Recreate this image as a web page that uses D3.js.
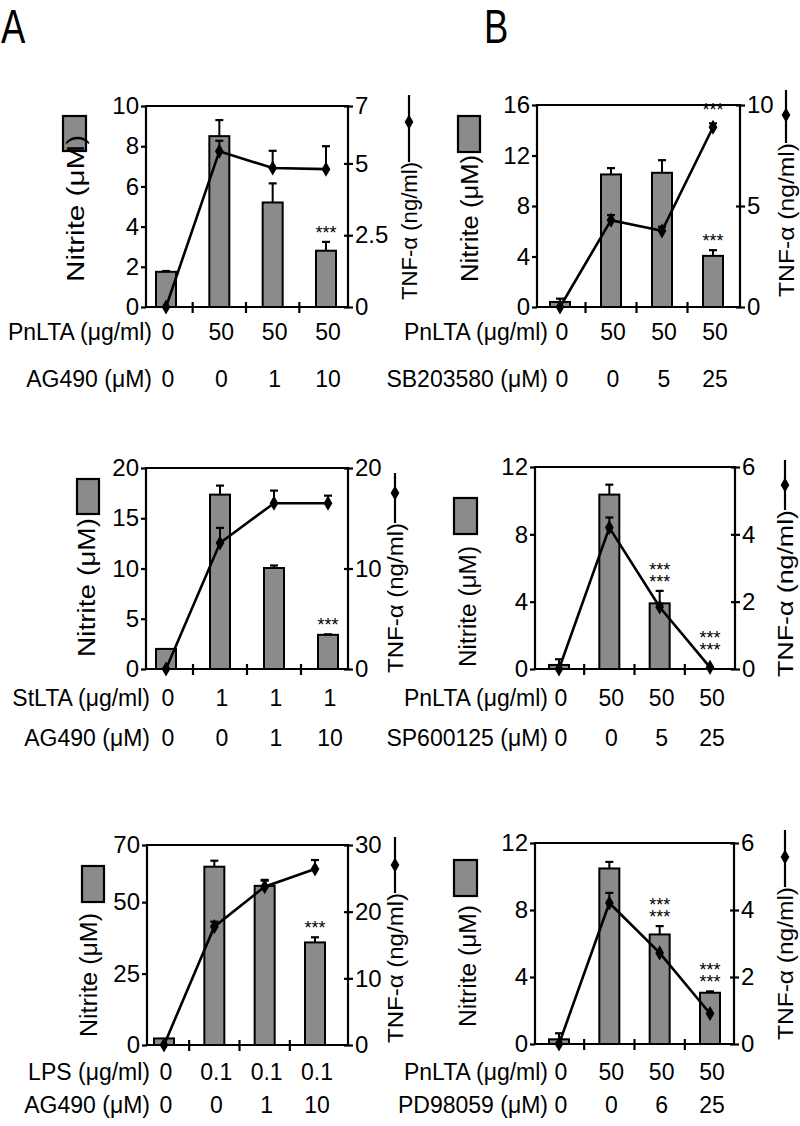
<!DOCTYPE html>
<html><head><meta charset="utf-8">
<script src="https://cdn.jsdelivr.net/npm/d3@7"></script>
<style>
html,body{margin:0;padding:0;background:#fff;}
svg{display:block;font-family:"Liberation Sans",Arial,Helvetica,sans-serif;}
</style></head><body>
<svg id="chart" width="800" height="1126"></svg>
<script>
// ================= DATA =================
const conditions = [0, 1, 2, 3];   // four treatment groups per panel

// ---- Panel A, top (PnLTA + AG490)
const a1Nitrite    = [1.75, 8.5, 5.2, 2.8];
const a1NitriteErr = [0.04, 0.8, 0.95, 0.44];
const a1Tnf        = [0, 5.42, 4.84, 4.8];
const a1TnfErr     = [0, 0.37, 0.6, 0.8];
const a1LeftTicks  = [0, 2, 4, 6, 8, 10];
const a1RightTicks = [0, 2.5, 5, 7];
const a1RowNames   = ["PnLTA (μg/ml)", "AG490 (μM)"];
const a1Row1       = ["0", "50", "50", "50"];
const a1Row2       = ["0", "0", "1", "10"];
const a1BarStars   = [0, 0, 0, 1];
const a1TnfStars   = [0, 0, 0, 0];

// ---- Panel B, top (PnLTA + SB203580)
const b1Nitrite    = [0.4, 10.5, 10.63, 4.05];
const b1NitriteErr = [0.26, 0.5, 1.0, 0.45];
const b1Tnf        = [0, 4.3, 3.77, 8.9];
const b1TnfErr     = [0, 0.25, 0.2, 0.19];
const b1LeftTicks  = [0, 4, 8, 12, 16];
const b1RightTicks = [0, 5, 10];
const b1RowNames   = ["PnLTA (μg/ml)", "SB203580 (μM)"];
const b1Row1       = ["0", "50", "50", "50"];
const b1Row2       = ["0", "0", "5", "25"];
const b1BarStars   = [0, 0, 0, 1];
const b1TnfStars   = [0, 0, 0, 1];

// ---- Panel A, middle (StLTA + AG490)
const a2Nitrite    = [2.0, 17.35, 10.05, 3.4];
const a2NitriteErr = [0, 0.9, 0.25, 0.05];
const a2Tnf        = [0, 12.54, 16.5, 16.5];
const a2TnfErr     = [0, 1.5, 1.25, 0.75];
const a2LeftTicks  = [0, 5, 10, 15, 20];
const a2RightTicks = [0, 10, 20];
const a2RowNames   = ["StLTA (μg/ml)", "AG490 (μM)"];
const a2Row1       = ["0", "1", "1", "1"];
const a2Row2       = ["0", "0", "1", "10"];
const a2BarStars   = [0, 0, 0, 1];
const a2TnfStars   = [0, 0, 0, 0];

// ---- Panel B, middle (PnLTA + SP600125)
const b2Nitrite    = [0.24, 10.36, 3.9, 0];
const b2NitriteErr = [0.34, 0.59, 0.74, 0];
const b2Tnf        = [0, 4.2, 1.84, 0.05];
const b2TnfErr     = [0, 0.3, 0.1, 0];
const b2LeftTicks  = [0, 4, 8, 12];
const b2RightTicks = [0, 2, 4, 6];
const b2RowNames   = ["PnLTA (μg/ml)", "SP600125 (μM)"];
const b2Row1       = ["0", "50", "50", "50"];
const b2Row2       = ["0", "0", "5", "25"];
const b2BarStars   = [0, 0, 2, 0];
const b2TnfStars   = [0, 0, 0, 2];

// ---- Panel A, bottom (LPS + AG490)
const a3Nitrite    = [2.3, 62.4, 55.7, 35.9];
const a3NitriteErr = [0, 2.1, 2.1, 1.8];
const a3Tnf        = [0, 17.75, 23.75, 26.4];
const a3TnfErr     = [0, 0.75, 0.9, 1.35];
const a3LeftTicks  = [0, 25, 50, 70];
const a3RightTicks = [0, 10, 20, 30];
const a3RowNames   = ["LPS (μg/ml)", "AG490 (μM)"];
const a3Row1       = ["0", "0.1", "0.1", "0.1"];
const a3Row2       = ["0", "0", "1", "10"];
const a3BarStars   = [0, 0, 0, 1];
const a3TnfStars   = [0, 0, 0, 0];

// ---- Panel B, bottom (PnLTA + PD98059)
const b3Nitrite    = [0.28, 10.48, 6.54, 3.06];
const b3NitriteErr = [0.36, 0.39, 0.5, 0.08];
const b3Tnf        = [0, 4.21, 2.72, 0.91];
const b3TnfErr     = [0, 0.3, 0, 0];
const b3LeftTicks  = [0, 4, 8, 12];
const b3RightTicks = [0, 2, 4, 6];
const b3RowNames   = ["PnLTA (μg/ml)", "PD98059 (μM)"];
const b3Row1       = ["0", "50", "50", "50"];
const b3Row2       = ["0", "0", "6", "25"];
const b3BarStars   = [0, 0, 2, 2];
const b3TnfStars   = [0, 0, 0, 0];

const nitriteTitle = "Nitrite (μM)";
const tnfTitle = "TNF-α (ng/ml)";
const panelLetters = ["A", "B"];

// ================= LAYOUT / STYLE =================
const BAR_FILL = "#8b8b8b";
const AXIS_W = 2.2;

const panels = [
  { nit: a1Nitrite, nitErr: a1NitriteErr, tnf: a1Tnf, tnfErr: a1TnfErr, lt: a1LeftTicks, rt: a1RightTicks,
    rowNames: a1RowNames, row1: a1Row1, row2: a1Row2, barStars: a1BarStars, tnfStars: a1TnfStars,
    L: { x0: 146, x1: 348, yT: 106, yB: 307, padL: 20, padR: 22, rowX: 152, r1: 340, r2: 387,
         rect: [63, 116, 23, 35], nitX: 84, nitY: [135, 282], tnfLineX: 409, tnfY: [162, 300], tnfLineTop: 95, tnfDia: 122 } },
  { nit: b1Nitrite, nitErr: b1NitriteErr, tnf: b1Tnf, tnfErr: b1TnfErr, lt: b1LeftTicks, rt: b1RightTicks,
    rowNames: b1RowNames, row1: b1Row1, row2: b1Row2, barStars: b1BarStars, tnfStars: b1TnfStars,
    L: { x0: 537, x1: 740, yT: 105, yB: 307, padL: 23, padR: 27, rowX: 548, r1: 340, r2: 387,
         rect: [458, 116, 22, 36], nitX: 478, nitY: [155, 282], tnfLineX: 786, tnfY: [143, 297], tnfLineTop: 90, tnfDia: 115 } },
  { nit: a2Nitrite, nitErr: a2NitriteErr, tnf: a2Tnf, tnfErr: a2TnfErr, lt: a2LeftTicks, rt: a2RightTicks,
    rowNames: a2RowNames, row1: a2Row1, row2: a2Row2, barStars: a2BarStars, tnfStars: a2TnfStars,
    L: { x0: 146, x1: 348, yT: 468, yB: 669, padL: 20, padR: 20, rowX: 150, r1: 706, r2: 746,
         rect: [77, 479, 22, 35], nitX: 95, nitY: [518, 657], tnfLineX: 395, tnfY: [523, 673], tnfLineTop: 473, tnfDia: 493 } },
  { nit: b2Nitrite, nitErr: b2NitriteErr, tnf: b2Tnf, tnfErr: b2TnfErr, lt: b2LeftTicks, rt: b2RightTicks,
    rowNames: b2RowNames, row1: b2Row1, row2: b2Row2, barStars: b2BarStars, tnfStars: b2TnfStars,
    L: { x0: 535, x1: 735, yT: 467, yB: 669, padL: 24, padR: 25, rowX: 548, r1: 706, r2: 746,
         rect: [454, 498, 23, 36], nitX: 476, nitY: [546, 667], tnfLineX: 785, tnfY: [510, 677], tnfLineTop: 460, tnfDia: 485 } },
  { nit: a3Nitrite, nitErr: a3NitriteErr, tnf: a3Tnf, tnfErr: a3TnfErr, lt: a3LeftTicks, rt: a3RightTicks,
    rowNames: a3RowNames, row1: a3Row1, row2: a3Row2, barStars: a3BarStars, tnfStars: a3TnfStars,
    L: { x0: 147, x1: 348, yT: 845, yB: 1045, padL: 17, padR: 33, rowX: 150, r1: 1080, r2: 1113,
         rect: [82, 866, 22, 36], nitX: 97, nitY: [913, 1037], tnfLineX: 395, tnfY: [893, 1043], tnfLineTop: 837, tnfDia: 865 } },
  { nit: b3Nitrite, nitErr: b3NitriteErr, tnf: b3Tnf, tnfErr: b3TnfErr, lt: b3LeftTicks, rt: b3RightTicks,
    rowNames: b3RowNames, row1: b3Row1, row2: b3Row2, barStars: b3BarStars, tnfStars: b3TnfStars,
    L: { x0: 535, x1: 734, yT: 843, yB: 1044, padL: 24, padR: 24, rowX: 548, r1: 1080, r2: 1113,
         rect: [454, 860, 23, 36], nitX: 476, nitY: [905, 1027], tnfLineX: 785, tnfY: [887, 1040], tnfLineTop: 830, tnfDia: 857 } }
];

// ================= DRAW =================
const svg = d3.select("#chart");
svg.append("rect").attr("width", 800).attr("height", 1126).attr("fill", "#fff");

// Panel letters
svg.append("text").text(panelLetters[0])
  .attr("transform", "translate(1,43) scale(0.76,1)")
  .style("font-size", "48px");
svg.append("text").text(panelLetters[1])
  .attr("transform", "translate(484,43) scale(0.76,1)")
  .style("font-size", "48px");

const diamond = d3.symbol().type(d3.symbolDiamond).size(66);

function fmt(v) { return String(v); }

function addStars(g, cx, baseY, rows) {
  if (rows <= 0) return;
  const t = g.append("text").attr("text-anchor", "middle").style("font-size", "18px");
  for (let k = rows - 1; k >= 0; k--) {
    t.append("tspan").attr("x", cx).attr("y", baseY - k * 12).text("***");
  }
}

panels.forEach(p => {
  const L = p.L;
  const g = svg.append("g");
  const x = d3.scalePoint().domain(conditions).range([L.x0 + L.padL, L.x1 - L.padR]);
  const yL = d3.scaleLinear().domain([0, d3.max(p.lt)]).range([L.yB, L.yT]);
  const yR = d3.scaleLinear().domain([0, d3.max(p.rt)]).range([L.yB, L.yT]);
  const barW = 20;

  // bars
  g.selectAll("rect.bar").data(conditions.filter(i => p.nit[i] > 0)).join("rect").attr("class", "bar")
    .attr("x", i => x(i) - barW / 2)
    .attr("y", i => yL(p.nit[i]))
    .attr("width", barW)
    .attr("height", i => Math.max(0, L.yB - yL(p.nit[i])))
    .attr("fill", BAR_FILL).attr("stroke", "#000").attr("stroke-width", 2);

  // bar error bars (upper only)
  const be = g.selectAll("g.berr").data(conditions.filter(i => p.nitErr[i] > 0)).join("g");
  be.append("line").attr("x1", i => x(i)).attr("x2", i => x(i))
    .attr("y1", i => yL(p.nit[i])).attr("y2", i => yL(p.nit[i] + p.nitErr[i]))
    .attr("stroke", "#000").attr("stroke-width", 2);
  be.append("line").attr("x1", i => x(i) - 4).attr("x2", i => x(i) + 4)
    .attr("y1", i => yL(p.nit[i] + p.nitErr[i])).attr("y2", i => yL(p.nit[i] + p.nitErr[i]))
    .attr("stroke", "#000").attr("stroke-width", 2.2);

  // frame: top line
  g.append("line").attr("x1", L.x0).attr("x2", L.x1).attr("y1", L.yT).attr("y2", L.yT)
    .attr("stroke", "#000").attr("stroke-width", AXIS_W);

  // bottom axis with crossing ticks between groups
  g.append("line").attr("x1", L.x0).attr("x2", L.x1).attr("y1", L.yB).attr("y2", L.yB)
    .attr("stroke", "#000").attr("stroke-width", AXIS_W);
  const mids = d3.pairs(conditions).map(([a, b]) => (x(a) + x(b)) / 2);
  g.selectAll("line.xt").data(mids).join("line").attr("class", "xt")
    .attr("x1", d => d).attr("x2", d => d).attr("y1", L.yB - 5).attr("y2", L.yB + 6)
    .attr("stroke", "#000").attr("stroke-width", AXIS_W);

  // left axis
  const axL = g.append("g").attr("transform", `translate(${L.x0},0)`)
    .call(d3.axisLeft(yL).tickValues(p.lt).tickFormat(fmt).tickSizeInner(5).tickSizeOuter(0).tickPadding(2));
  // right axis
  const axR = g.append("g").attr("transform", `translate(${L.x1},0)`)
    .call(d3.axisRight(yR).tickValues(p.rt).tickFormat(fmt).tickSizeInner(5).tickSizeOuter(0).tickPadding(2));
  axR.selectAll(".tick line").attr("x1", -4);
  [axL, axR].forEach(ax => {
    ax.select(".domain").attr("stroke-width", AXIS_W).attr("d", `M0,${L.yB + 1}V${L.yT - 1}`);
    ax.selectAll(".tick line").attr("stroke-width", AXIS_W);
    ax.selectAll(".tick text").style("font-size", "24px").attr("fill", "#000")
      .style("font-family", '"Liberation Sans",Arial,sans-serif');
  });

  // TNF line
  const line = d3.line().x(i => x(i)).y(i => yR(p.tnf[i]));
  g.append("path").datum(conditions).attr("d", line)
    .attr("fill", "none").attr("stroke", "#000").attr("stroke-width", 2.6);
  // TNF error bars
  const te = g.selectAll("g.terr").data(conditions.filter(i => p.tnfErr[i] > 0)).join("g");
  te.append("line").attr("x1", i => x(i)).attr("x2", i => x(i))
    .attr("y1", i => yR(p.tnf[i])).attr("y2", i => yR(p.tnf[i] + p.tnfErr[i]))
    .attr("stroke", "#000").attr("stroke-width", 2);
  te.append("line").attr("x1", i => x(i) - 4).attr("x2", i => x(i) + 4)
    .attr("y1", i => yR(p.tnf[i] + p.tnfErr[i])).attr("y2", i => yR(p.tnf[i] + p.tnfErr[i]))
    .attr("stroke", "#000").attr("stroke-width", 2.2);
  // diamonds
  g.selectAll("path.pt").data(conditions).join("path").attr("class", "pt")
    .attr("d", diamond).attr("transform", i => `translate(${x(i)},${yR(p.tnf[i])})`)
    .attr("fill", "#000");

  // significance stars
  conditions.forEach(i => {
    addStars(g, x(i), yL(p.nit[i] + p.nitErr[i]) - 3, p.barStars[i]);
    const topT = Math.min(yR(p.tnf[i] + p.tnfErr[i]), yR(p.tnf[i]) - 7);
    addStars(g, x(i), topT - 4, p.tnfStars[i]);
  });

  // treatment rows
  [[p.row1, L.r1, p.rowNames[0]], [p.row2, L.r2, p.rowNames[1]]].forEach(([vals, yy, name]) => {
    g.append("text").text(name).attr("x", L.rowX).attr("y", yy)
      .attr("text-anchor", "end").style("font-size", "23px");
    g.selectAll(null).data(conditions).join("text").text(i => vals[i])
      .attr("x", i => x(i) + 2).attr("y", yy).attr("text-anchor", "middle").style("font-size", "23px");
  });

  // left legend: grey box + rotated Nitrite title
  g.append("rect").attr("x", L.rect[0]).attr("y", L.rect[1]).attr("width", L.rect[2]).attr("height", L.rect[3])
    .attr("fill", BAR_FILL).attr("stroke", "#000").attr("stroke-width", 2.2);
  g.append("text").text(nitriteTitle)
    .attr("transform", `translate(${L.nitX},${L.nitY[1]}) rotate(-90)`)
    .attr("textLength", L.nitY[1] - L.nitY[0]).attr("lengthAdjust", "spacingAndGlyphs")
    .style("font-size", "23px");

  // right legend: rotated TNF title with line + diamond
  g.append("text").text(tnfTitle)
    .attr("transform", `translate(${L.tnfLineX + 8},${L.tnfY[1]}) rotate(-90)`)
    .attr("textLength", L.tnfY[1] - L.tnfY[0]).attr("lengthAdjust", "spacingAndGlyphs")
    .style("font-size", "22px");
  g.append("line").attr("x1", L.tnfLineX).attr("x2", L.tnfLineX)
    .attr("y1", L.tnfLineTop).attr("y2", L.tnfY[0])
    .attr("stroke", "#000").attr("stroke-width", 2.2);
  g.append("path").attr("d", diamond).attr("transform", `translate(${L.tnfLineX},${L.tnfDia})`).attr("fill", "#000");
});
</script>
</body></html>
